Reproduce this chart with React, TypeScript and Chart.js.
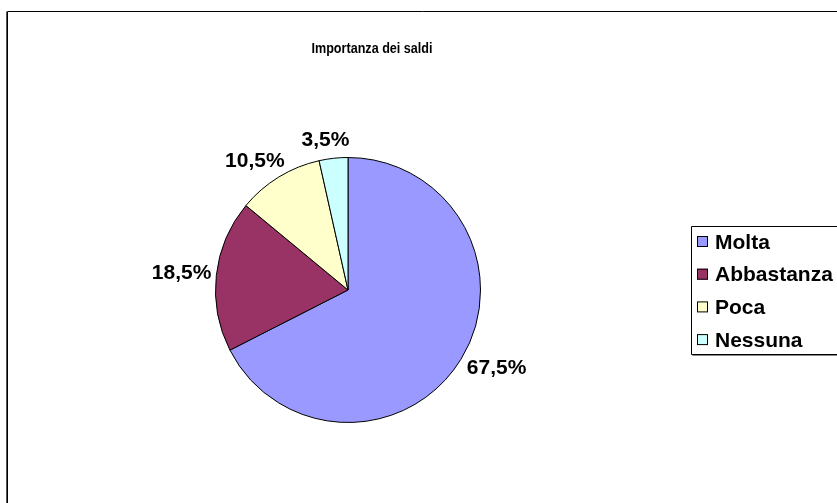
import { useEffect, useRef } from "react";
import { Chart, registerables } from "chart.js";

Chart.register(...registerables);

const title = "Importanza dei saldi";
const categories = ["Molta", "Abbastanza", "Poca", "Nessuna"];
const values = [67.5, 18.5, 10.5, 3.5];
const valueLabels = ["67,5%", "18,5%", "10,5%", "3,5%"];
const colors = ["#9999FF", "#993366", "#FFFFCC", "#CCFFFF"];

const FONT = "'Liberation Sans', Arial, sans-serif";

const decorPlugin = {
  id: "excelDecor",
  beforeDraw(chart: any) {
    const ctx = chart.ctx;
    ctx.save();
    ctx.fillStyle = "#ffffff";
    ctx.fillRect(0, 0, chart.width, chart.height);
    ctx.strokeStyle = "#000000";
    ctx.lineWidth = 1;
    ctx.beginPath();
    ctx.moveTo(7.5, chart.height + 2);
    ctx.lineTo(7.5, 11.5);
    ctx.lineTo(chart.width + 2, 11.5);
    ctx.stroke();
    ctx.strokeStyle = "#555555";
    ctx.beginPath();
    ctx.moveTo(6.5, chart.height + 2);
    ctx.lineTo(6.5, 11.5);
    ctx.stroke();
    ctx.restore();
  },
  afterDraw(chart: any) {
    const ctx = chart.ctx;
    ctx.save();
    // title
    ctx.fillStyle = "#000000";
    ctx.font = `bold 15px ${FONT}`;
    ctx.textAlign = "center";
    ctx.textBaseline = "middle";
    ctx.save();
    ctx.translate(372, 49);
    ctx.scale(0.84, 1);
    ctx.fillText(title, 0, 0);
    ctx.restore();

    // data labels
    const meta = chart.getDatasetMeta(0);
    ctx.font = `bold 21px ${FONT}`;
    meta.data.forEach((arc: any, i: number) => {
      const p = arc.getProps(["x", "y", "startAngle", "endAngle", "outerRadius"], true);
      const mid = (p.startAngle + p.endAngle) / 2;
      const c = Math.cos(mid);
      const s = Math.sin(mid);
      const gap = 10;
      const w = ctx.measureText(valueLabels[i]).width;
      const h = 16;
      const ax = p.x + (p.outerRadius + gap) * c;
      const ay = p.y + (p.outerRadius + gap) * s;
      const kx = Math.sign(c) * Math.pow(Math.abs(c), 0.4) * 0.9;
      const tx = ax + kx * w / 2 + 2;
      const ty = ay + s * h / 2;
      ctx.fillText(valueLabels[i], tx, ty);
    });

    // legend
    const lx = 691.5, ly = 226.5, lb = 354.5;
    ctx.strokeStyle = "#000000";
    ctx.lineWidth = 1;
    ctx.beginPath();
    ctx.moveTo(chart.width + 2, ly);
    ctx.lineTo(lx, ly);
    ctx.lineTo(lx, lb);
    ctx.lineTo(chart.width + 2, lb);
    ctx.stroke();
    ctx.strokeStyle = "#888888";
    ctx.beginPath();
    ctx.moveTo(lx + 1, lb + 1);
    ctx.lineTo(chart.width + 2, lb + 1);
    ctx.stroke();

    ctx.font = `bold 21px ${FONT}`;
    ctx.textAlign = "left";
    const step = 32.7;
    categories.forEach((cat, i) => {
      const cy = 242 + i * step;
      ctx.fillStyle = colors[i];
      ctx.fillRect(697, cy - 6, 11, 11);
      ctx.strokeStyle = "#000000";
      ctx.strokeRect(697.5, cy - 5.5, 10, 10);
      ctx.fillStyle = "#000000";
      ctx.fillText(cat, 715, cy + 1);
    });
    ctx.restore();
  },
};

export default function App() {
  const ref = useRef<HTMLCanvasElement>(null);
  useEffect(() => {
    if (!ref.current) return;
    const chart = new Chart(ref.current, {
      type: "pie",
      data: {
        labels: categories,
        datasets: [
          {
            data: values,
            backgroundColor: colors,
            borderColor: "#000000",
            borderWidth: 1,
          },
        ],
      },
      options: {
        responsive: false,
        animation: false,
        layout: { padding: { left: 215, right: 356, top: 157, bottom: 80 } },
        plugins: {
          legend: { display: false },
          title: { display: false },
          tooltip: { enabled: false },
        },
      },
      plugins: [decorPlugin],
    });
    return () => chart.destroy();
  }, []);
  return (
    <div style={{ position: "fixed", left: 0, top: 0, width: 837, height: 503 }}>
      <canvas ref={ref} width={837} height={503} />
    </div>
  );
}
